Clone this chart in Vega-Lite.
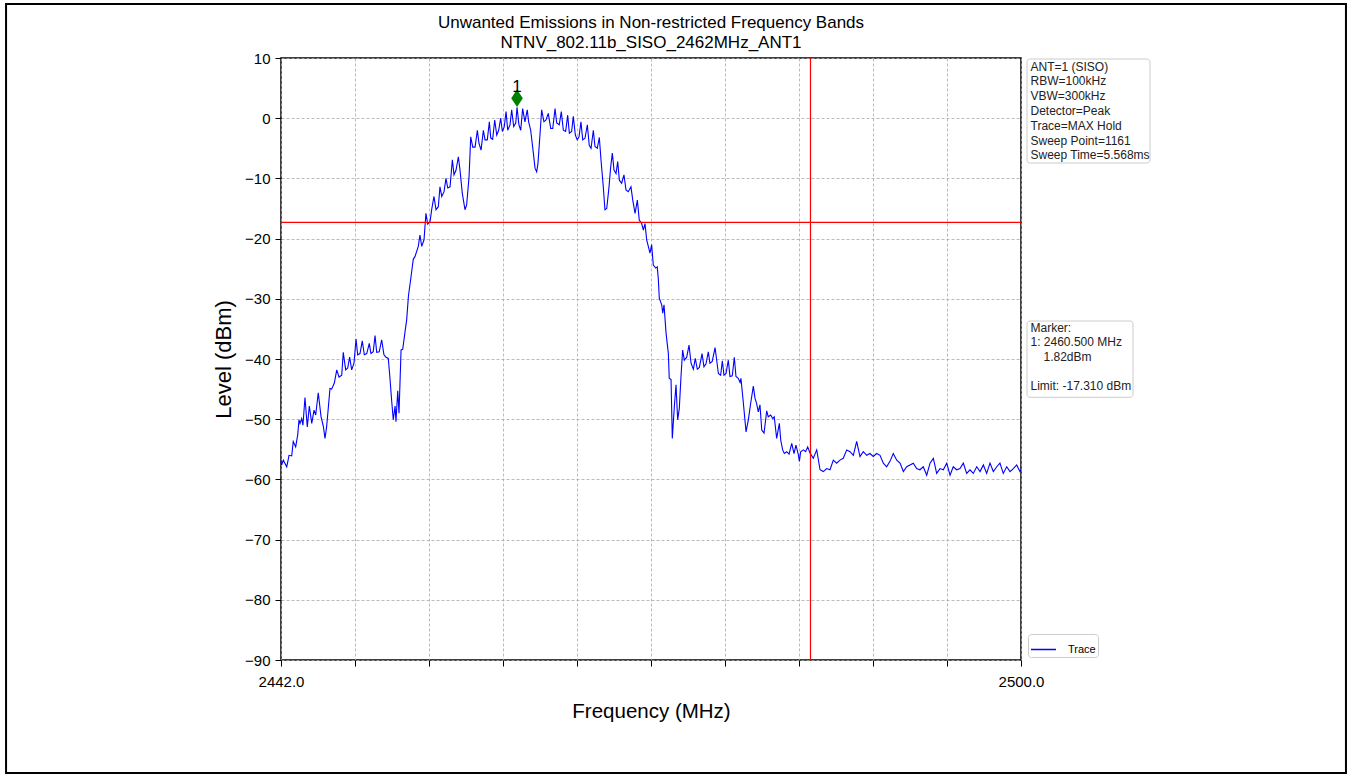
{
  "$schema": "https://vega.github.io/schema/vega-lite/v6.json",
  "width": 740,
  "height": 602,
  "autosize": {"type": "none"},
  "padding": {"left": 281, "top": 58, "right": 331, "bottom": 118},
  "background": "#ffffff",
  "title": {
    "text": ["Unwanted Emissions in Non-restricted Frequency Bands", "NTNV_802.11b_SISO_2462MHz_ANT1"],
    "fontSize": 17, "lineHeight": 20, "font": "Liberation Sans", "fontWeight": "normal",
    "color": "#000000", "anchor": "middle", "frame": "group", "offset": 6, "dy": 55
  },
  "config": {
    "font": "Liberation Sans",
    "view": {"stroke": "#000000", "strokeWidth": 1.5}
  },
  "datasets": {
    "trace": [
      {"f":2442.00,"v":-56.8},{"f":2442.05,"v":-57.6},{"f":2442.18,"v":-56.8},{"f":2442.45,"v":-57.9},{"f":2442.63,"v":-56.0},{"f":2442.84,"v":-56.1},{"f":2442.96,"v":-53.7},{"f":2443.15,"v":-54.6},{"f":2443.31,"v":-52.6},{"f":2443.41,"v":-50.1},{"f":2443.49,"v":-50.7},{"f":2443.62,"v":-49.9},{"f":2443.72,"v":-51.0},{"f":2443.88,"v":-46.4},{"f":2444.06,"v":-51.3},{"f":2444.22,"v":-47.8},{"f":2444.41,"v":-50.7},{"f":2444.59,"v":-48.5},{"f":2444.72,"v":-49.3},{"f":2444.92,"v":-45.6},{"f":2445.14,"v":-49.6},{"f":2445.32,"v":-51.2},{"f":2445.45,"v":-53.2},{"f":2445.58,"v":-51.2},{"f":2445.84,"v":-44.9},{"f":2445.97,"v":-45.0},{"f":2446.18,"v":-44.0},{"f":2446.37,"v":-41.8},{"f":2446.55,"v":-43.0},{"f":2446.76,"v":-42.7},{"f":2446.88,"v":-38.9},{"f":2447.07,"v":-41.8},{"f":2447.23,"v":-41.5},{"f":2447.38,"v":-39.7},{"f":2447.54,"v":-41.8},{"f":2447.72,"v":-40.7},{"f":2447.88,"v":-36.7},{"f":2448.01,"v":-39.3},{"f":2448.19,"v":-39.1},{"f":2448.37,"v":-37.0},{"f":2448.53,"v":-39.3},{"f":2448.72,"v":-39.1},{"f":2448.92,"v":-37.4},{"f":2449.05,"v":-39.1},{"f":2449.23,"v":-38.8},{"f":2449.37,"v":-36.1},{"f":2449.50,"v":-38.9},{"f":2449.70,"v":-38.8},{"f":2449.89,"v":-36.8},{"f":2450.07,"v":-39.3},{"f":2450.23,"v":-39.7},{"f":2450.41,"v":-39.9},{"f":2450.54,"v":-43.2},{"f":2450.68,"v":-47.1},{"f":2450.80,"v":-50.1},{"f":2450.94,"v":-47.8},{"f":2451.01,"v":-50.4},{"f":2451.15,"v":-45.3},{"f":2451.25,"v":-49.0},{"f":2451.41,"v":-38.5},{"f":2451.54,"v":-38.4},{"f":2451.72,"v":-35.5},{"f":2451.85,"v":-33.5},{"f":2451.99,"v":-29.5},{"f":2452.15,"v":-27.0},{"f":2452.27,"v":-25.0},{"f":2452.37,"v":-23.4},{"f":2452.50,"v":-23.0},{"f":2452.76,"v":-21.3},{"f":2452.89,"v":-19.4},{"f":2453.03,"v":-21.3},{"f":2453.21,"v":-20.2},{"f":2453.36,"v":-15.8},{"f":2453.50,"v":-17.6},{"f":2453.68,"v":-17.2},{"f":2453.81,"v":-15.2},{"f":2453.99,"v":-13.0},{"f":2454.15,"v":-15.2},{"f":2454.33,"v":-14.7},{"f":2454.46,"v":-11.4},{"f":2454.60,"v":-13.0},{"f":2454.78,"v":-12.2},{"f":2454.93,"v":-10.0},{"f":2455.07,"v":-11.6},{"f":2455.25,"v":-11.4},{"f":2455.43,"v":-6.9},{"f":2455.56,"v":-9.4},{"f":2455.72,"v":-8.6},{"f":2455.90,"v":-6.4},{"f":2456.03,"v":-8.6},{"f":2456.21,"v":-12.5},{"f":2456.42,"v":-15.2},{"f":2456.55,"v":-14.4},{"f":2456.74,"v":-9.7},{"f":2456.87,"v":-3.1},{"f":2457.03,"v":-4.8},{"f":2457.21,"v":-4.8},{"f":2457.39,"v":-2.0},{"f":2457.52,"v":-4.2},{"f":2457.68,"v":-5.3},{"f":2457.86,"v":-2.0},{"f":2457.99,"v":-3.6},{"f":2458.17,"v":-3.6},{"f":2458.33,"v":-0.6},{"f":2458.44,"v":-3.3},{"f":2458.59,"v":-3.5},{"f":2458.75,"v":-0.3},{"f":2458.91,"v":-2.8},{"f":2459.06,"v":-2.0},{"f":2459.22,"v":0.0},{"f":2459.35,"v":-2.2},{"f":2459.50,"v":-1.4},{"f":2459.64,"v":1.1},{"f":2459.77,"v":-2.0},{"f":2459.95,"v":-1.1},{"f":2460.08,"v":1.4},{"f":2460.24,"v":-1.4},{"f":2460.40,"v":-0.8},{"f":2460.50,"v":1.82},{"f":2460.65,"v":-1.1},{"f":2460.79,"v":-2.0},{"f":2460.94,"v":1.6},{"f":2461.12,"v":-0.6},{"f":2461.30,"v":1.4},{"f":2461.41,"v":-0.6},{"f":2461.57,"v":-2.0},{"f":2461.78,"v":-5.8},{"f":2461.91,"v":-8.3},{"f":2462.04,"v":-8.9},{"f":2462.14,"v":-7.5},{"f":2462.25,"v":-4.2},{"f":2462.43,"v":1.4},{"f":2462.61,"v":-0.6},{"f":2462.77,"v":-0.3},{"f":2462.95,"v":0.8},{"f":2463.14,"v":-1.7},{"f":2463.30,"v":-1.7},{"f":2463.48,"v":1.6},{"f":2463.61,"v":-0.8},{"f":2463.81,"v":-1.1},{"f":2463.97,"v":1.1},{"f":2464.13,"v":-2.0},{"f":2464.31,"v":-2.2},{"f":2464.47,"v":0.5},{"f":2464.60,"v":-2.5},{"f":2464.78,"v":-2.2},{"f":2464.91,"v":0.3},{"f":2465.07,"v":-2.8},{"f":2465.22,"v":-3.6},{"f":2465.36,"v":-3.1},{"f":2465.51,"v":-0.6},{"f":2465.65,"v":-3.6},{"f":2465.83,"v":-3.3},{"f":2466.01,"v":-1.1},{"f":2466.16,"v":-4.5},{"f":2466.30,"v":-5.0},{"f":2466.48,"v":-2.0},{"f":2466.61,"v":-4.7},{"f":2466.79,"v":-5.0},{"f":2466.95,"v":-3.2},{"f":2467.08,"v":-6.9},{"f":2467.26,"v":-11.4},{"f":2467.39,"v":-15.2},{"f":2467.53,"v":-15.0},{"f":2467.71,"v":-11.4},{"f":2467.84,"v":-8.1},{"f":2467.97,"v":-5.8},{"f":2468.10,"v":-8.6},{"f":2468.26,"v":-9.2},{"f":2468.39,"v":-7.2},{"f":2468.52,"v":-10.3},{"f":2468.70,"v":-10.8},{"f":2468.88,"v":-9.4},{"f":2469.04,"v":-11.9},{"f":2469.22,"v":-12.2},{"f":2469.43,"v":-11.4},{"f":2469.57,"v":-13.6},{"f":2469.75,"v":-15.8},{"f":2469.93,"v":-13.6},{"f":2470.08,"v":-16.9},{"f":2470.27,"v":-17.5},{"f":2470.40,"v":-18.6},{"f":2470.53,"v":-17.5},{"f":2470.66,"v":-20.2},{"f":2470.79,"v":-21.3},{"f":2470.92,"v":-22.4},{"f":2471.05,"v":-21.0},{"f":2471.18,"v":-24.4},{"f":2471.37,"v":-24.9},{"f":2471.49,"v":-24.7},{"f":2471.57,"v":-26.6},{"f":2471.65,"v":-29.9},{"f":2471.84,"v":-31.0},{"f":2471.92,"v":-32.4},{"f":2472.02,"v":-31.0},{"f":2472.18,"v":-35.7},{"f":2472.36,"v":-39.1},{"f":2472.43,"v":-43.2},{"f":2472.57,"v":-43.4},{"f":2472.67,"v":-53.2},{"f":2472.83,"v":-47.9},{"f":2472.96,"v":-44.3},{"f":2473.09,"v":-50.1},{"f":2473.22,"v":-48.2},{"f":2473.35,"v":-42.9},{"f":2473.48,"v":-38.5},{"f":2473.61,"v":-40.2},{"f":2473.80,"v":-39.7},{"f":2473.98,"v":-37.7},{"f":2474.14,"v":-40.7},{"f":2474.32,"v":-41.7},{"f":2474.47,"v":-39.9},{"f":2474.63,"v":-41.7},{"f":2474.79,"v":-41.4},{"f":2475.00,"v":-39.1},{"f":2475.15,"v":-41.3},{"f":2475.31,"v":-40.8},{"f":2475.49,"v":-38.8},{"f":2475.62,"v":-40.7},{"f":2475.80,"v":-40.4},{"f":2476.02,"v":-38.1},{"f":2476.15,"v":-40.2},{"f":2476.28,"v":-42.4},{"f":2476.46,"v":-42.7},{"f":2476.59,"v":-40.3},{"f":2476.72,"v":-42.7},{"f":2476.88,"v":-42.4},{"f":2477.06,"v":-40.2},{"f":2477.19,"v":-42.9},{"f":2477.37,"v":-42.8},{"f":2477.53,"v":-39.7},{"f":2477.66,"v":-42.9},{"f":2477.84,"v":-43.2},{"f":2477.98,"v":-43.9},{"f":2478.05,"v":-43.2},{"f":2478.23,"v":-47.1},{"f":2478.45,"v":-52.1},{"f":2478.63,"v":-50.1},{"f":2478.81,"v":-47.4},{"f":2479.02,"v":-44.5},{"f":2479.15,"v":-46.5},{"f":2479.28,"v":-47.4},{"f":2479.41,"v":-48.8},{"f":2479.54,"v":-47.6},{"f":2479.68,"v":-51.8},{"f":2479.86,"v":-52.3},{"f":2480.07,"v":-48.6},{"f":2480.19,"v":-49.6},{"f":2480.38,"v":-49.3},{"f":2480.54,"v":-49.9},{"f":2480.66,"v":-49.6},{"f":2480.85,"v":-53.2},{"f":2481.06,"v":-50.7},{"f":2481.17,"v":-53.5},{"f":2481.32,"v":-55.1},{"f":2481.45,"v":-55.7},{"f":2481.64,"v":-55.4},{"f":2481.82,"v":-55.8},{"f":2482.03,"v":-54.0},{"f":2482.21,"v":-55.7},{"f":2482.36,"v":-54.3},{"f":2482.55,"v":-55.9},{"f":2482.63,"v":-57.0},{"f":2482.73,"v":-55.4},{"f":2482.94,"v":-55.1},{"f":2483.12,"v":-55.4},{"f":2483.28,"v":-54.6},{"f":2483.46,"v":-55.6},{"f":2483.72,"v":-56.5},{"f":2483.99,"v":-55.1},{"f":2484.25,"v":-58.4},{"f":2484.50,"v":-58.7},{"f":2484.77,"v":-58.2},{"f":2485.03,"v":-58.4},{"f":2485.29,"v":-56.8},{"f":2485.55,"v":-57.3},{"f":2485.81,"v":-56.8},{"f":2486.07,"v":-56.5},{"f":2486.34,"v":-55.1},{"f":2486.60,"v":-55.4},{"f":2486.86,"v":-56.0},{"f":2487.12,"v":-53.7},{"f":2487.38,"v":-56.2},{"f":2487.64,"v":-55.4},{"f":2487.91,"v":-56.0},{"f":2488.16,"v":-55.7},{"f":2488.42,"v":-56.2},{"f":2488.69,"v":-55.7},{"f":2488.95,"v":-56.0},{"f":2489.21,"v":-57.3},{"f":2489.47,"v":-57.9},{"f":2489.73,"v":-57.0},{"f":2489.99,"v":-55.7},{"f":2490.26,"v":-56.8},{"f":2490.52,"v":-57.3},{"f":2490.78,"v":-58.7},{"f":2491.04,"v":-57.9},{"f":2491.30,"v":-57.6},{"f":2491.56,"v":-57.3},{"f":2491.82,"v":-58.2},{"f":2492.08,"v":-58.4},{"f":2492.34,"v":-57.9},{"f":2492.61,"v":-59.3},{"f":2492.87,"v":-57.3},{"f":2493.13,"v":-56.5},{"f":2493.39,"v":-59.0},{"f":2493.65,"v":-58.2},{"f":2493.91,"v":-58.4},{"f":2494.18,"v":-57.3},{"f":2494.44,"v":-59.3},{"f":2494.69,"v":-57.9},{"f":2494.96,"v":-58.4},{"f":2495.22,"v":-58.2},{"f":2495.48,"v":-57.3},{"f":2495.74,"v":-59.0},{"f":2496.00,"v":-58.4},{"f":2496.26,"v":-59.0},{"f":2496.53,"v":-57.9},{"f":2496.79,"v":-58.7},{"f":2497.05,"v":-57.6},{"f":2497.31,"v":-59.0},{"f":2497.57,"v":-57.3},{"f":2497.83,"v":-58.7},{"f":2498.10,"v":-57.9},{"f":2498.35,"v":-57.3},{"f":2498.61,"v":-59.0},{"f":2498.88,"v":-57.9},{"f":2499.14,"v":-58.7},{"f":2499.40,"v":-58.2},{"f":2499.66,"v":-57.6},{"f":2499.92,"v":-58.7},{"f":2500.00,"v":-58.4}
    ]
  },
  "layer": [
    {
      "data": {"name": "trace"},
      "mark": {"type": "line", "strokeWidth": 1.1, "interpolate": "linear"},
      "encoding": {
        "x": {
          "field": "f", "type": "quantitative",
          "scale": {"domain": [2442, 2500], "nice": false, "zero": false},
          "axis": {
            "title": "Frequency (MHz)",
            "values": [2442, 2447.8, 2453.6, 2459.4, 2465.2, 2471, 2476.8, 2482.6, 2488.4, 2494.2, 2500],
            "labelExpr": "datum.value == 2442 || datum.value == 2500 ? format(datum.value, '.1f') : ''",
            "grid": true, "gridDash": [3, 2], "gridColor": "#aaaaaa", "gridWidth": 0.8,
            "domain": false, "ticks": true, "tickColor": "#000000", "tickSize": 6, "tickWidth": 1,
            "labelFontSize": 15, "labelFont": "Liberation Sans", "labelColor": "#000000", "labelPadding": 8,
            "labelFlush": false, "labelOverlap": false,
            "titleFontSize": 20.5, "titleFont": "Liberation Sans", "titleFontWeight": "normal", "titleColor": "#000000", "titlePadding": 12
          }
        },
        "y": {
          "field": "v", "type": "quantitative",
          "scale": {"domain": [-90, 10], "nice": false, "zero": false},
          "axis": {
            "title": "Level (dBm)",
            "values": [-90, -80, -70, -60, -50, -40, -30, -20, -10, 0, 10],
            "format": "d",
            "grid": true, "gridDash": [3, 2], "gridColor": "#aaaaaa", "gridWidth": 0.8,
            "domain": false, "ticks": true, "tickColor": "#000000", "tickSize": 6, "tickWidth": 1,
            "labelFontSize": 15, "labelFont": "Liberation Sans", "labelColor": "#000000", "labelPadding": 5,
            "labelFlush": false, "labelOverlap": false,
            "titleFontSize": 22, "titleFont": "Liberation Sans", "titleFontWeight": "normal", "titleColor": "#000000", "titlePadding": 9
          }
        },
        "stroke": {
          "datum": "Trace", "type": "nominal",
          "scale": {"range": ["#0000ff"]},
          "legend": {
            "orient": "none", "legendX": 747, "legendY": 576, "title": null,
            "symbolType": "stroke", "symbolSize": 625, "symbolStrokeWidth": 1.5,
            "labelFontSize": 11, "labelFont": "Liberation Sans", "labelColor": "#000000", "labelOffset": 11,
            "padding": 2, "strokeColor": "#cccccc", "fillColor": "#ffffff", "cornerRadius": 3
          }
        }
      }
    },
    {
      "data": {"values": [{"limit": -17.31}]},
      "mark": {"type": "rule", "color": "#ff0000", "strokeWidth": 1.2},
      "encoding": {
        "y": {"field": "limit", "type": "quantitative", "scale": {"domain": [-90, 10], "nice": false, "zero": false}}
      }
    },
    {
      "data": {"values": [{"edge": 2483.5}]},
      "mark": {"type": "rule", "color": "#ff0000", "strokeWidth": 1.2},
      "encoding": {
        "x": {"field": "edge", "type": "quantitative", "scale": {"domain": [2442, 2500], "nice": false, "zero": false}}
      }
    },
    {
      "data": {"values": [{"f": 2460.5, "v": 1.82, "label": "1"}]},
      "mark": {"type": "point", "shape": "M0,-1L0.67,0L0,1L-0.67,0Z", "size": 300, "filled": true, "color": "#008000", "opacity": 1, "yOffset": -9},
      "encoding": {
        "x": {"field": "f", "type": "quantitative", "scale": {"domain": [2442, 2500], "nice": false, "zero": false}},
        "y": {"field": "v", "type": "quantitative", "scale": {"domain": [-90, 10], "nice": false, "zero": false}}
      }
    },
    {
      "data": {"values": [{"f": 2460.5, "v": 1.82, "label": "1"}]},
      "mark": {"type": "text", "fontSize": 17, "font": "Liberation Sans", "color": "#000000", "baseline": "alphabetic", "align": "center", "yOffset": -15},
      "encoding": {
        "x": {"field": "f", "type": "quantitative", "scale": {"domain": [2442, 2500], "nice": false, "zero": false}},
        "y": {"field": "v", "type": "quantitative", "scale": {"domain": [-90, 10], "nice": false, "zero": false}},
        "text": {"field": "label", "type": "nominal"}
      }
    },
    {
      "data": {"values": [{}]},
      "mark": {"type": "rect", "fill": "#ffffff", "stroke": "#cccccc", "strokeWidth": 1, "cornerRadius": 3},
      "encoding": {
        "x": {"datum": 2500.47, "type": "quantitative", "scale": {"domain": [2442, 2500], "nice": false, "zero": false}},
        "x2": {"datum": 2510.11},
        "y": {"datum": 9.83, "type": "quantitative", "scale": {"domain": [-90, 10], "nice": false, "zero": false}},
        "y2": {"datum": -7.44}
      }
    },
    {
      "data": {"values": [{"lines": ["ANT=1 (SISO)", "RBW=100kHz", "VBW=300kHz", "Detector=Peak", "Trace=MAX Hold", "Sweep Point=1161", "Sweep Time=5.568ms"]}]},
      "mark": {"type": "text", "fontSize": 12, "font": "Liberation Sans", "color": "#222222", "align": "left", "baseline": "alphabetic", "lineHeight": 14.8},
      "encoding": {
        "x": {"datum": 2500.745, "type": "quantitative", "scale": {"domain": [2442, 2500], "nice": false, "zero": false}},
        "y": {"datum": 7.92, "type": "quantitative", "scale": {"domain": [-90, 10], "nice": false, "zero": false}},
        "text": {"field": "lines", "type": "nominal"}
      }
    },
    {
      "data": {"values": [{}]},
      "mark": {"type": "rect", "fill": "#ffffff", "stroke": "#cccccc", "strokeWidth": 1, "cornerRadius": 3},
      "encoding": {
        "x": {"datum": 2500.47, "type": "quantitative", "scale": {"domain": [2442, 2500], "nice": false, "zero": false}},
        "x2": {"datum": 2508.78},
        "y": {"datum": -33.69, "type": "quantitative", "scale": {"domain": [-90, 10], "nice": false, "zero": false}},
        "y2": {"datum": -46.36}
      }
    },
    {
      "data": {"values": [{"lines": ["Marker:", "1: 2460.500 MHz"]}]},
      "mark": {"type": "text", "fontSize": 12, "font": "Liberation Sans", "color": "#222222", "align": "left", "baseline": "alphabetic", "lineHeight": 14.5},
      "encoding": {
        "x": {"datum": 2500.745, "type": "quantitative", "scale": {"domain": [2442, 2500], "nice": false, "zero": false}},
        "y": {"datum": -35.47, "type": "quantitative", "scale": {"domain": [-90, 10], "nice": false, "zero": false}},
        "text": {"field": "lines", "type": "nominal"}
      }
    },
    {
      "data": {"values": [{"lines": "1.82dBm"}]},
      "mark": {"type": "text", "fontSize": 12, "font": "Liberation Sans", "color": "#222222", "align": "left", "baseline": "alphabetic", "dx": 13},
      "encoding": {
        "x": {"datum": 2500.745, "type": "quantitative", "scale": {"domain": [2442, 2500], "nice": false, "zero": false}},
        "y": {"datum": -40.28, "type": "quantitative", "scale": {"domain": [-90, 10], "nice": false, "zero": false}},
        "text": {"field": "lines", "type": "nominal"}
      }
    },
    {
      "data": {"values": [{"lines": "Limit: -17.310 dBm"}]},
      "mark": {"type": "text", "fontSize": 12, "font": "Liberation Sans", "color": "#222222", "align": "left", "baseline": "alphabetic"},
      "encoding": {
        "x": {"datum": 2500.745, "type": "quantitative", "scale": {"domain": [2442, 2500], "nice": false, "zero": false}},
        "y": {"datum": -45.1, "type": "quantitative", "scale": {"domain": [-90, 10], "nice": false, "zero": false}},
        "text": {"field": "lines", "type": "nominal"}
      }
    },
    {
      "data": {"values": [{}]},
      "mark": {"type": "rect", "fill": null, "fillOpacity": 0, "stroke": "#000000", "strokeWidth": 2},
      "encoding": {
        "x": {"datum": 2420.45, "type": "quantitative", "scale": {"domain": [2442, 2500], "nice": false, "zero": false}},
        "x2": {"datum": 2525.47},
        "y": {"datum": 18.97, "type": "quantitative", "scale": {"domain": [-90, 10], "nice": false, "zero": false}},
        "y2": {"datum": -108.77}
      }
    }
  ]
}
